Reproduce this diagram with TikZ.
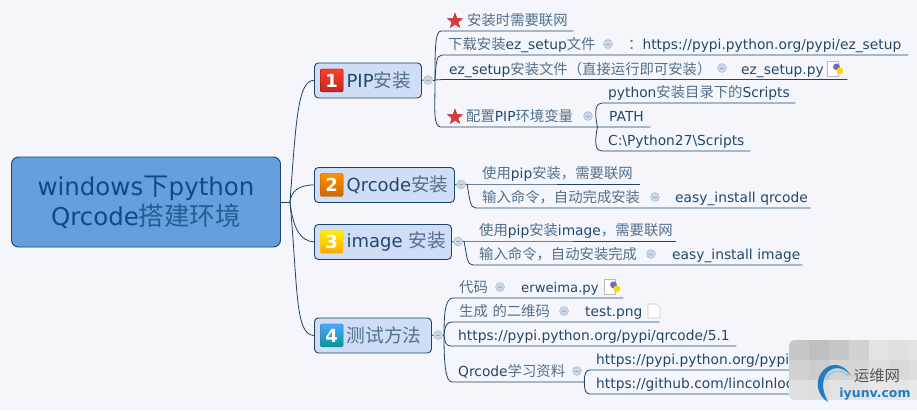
\documentclass[tikz,border=0pt]{standalone}
\usepackage{fontspec}
\setmainfont{DejaVu Sans}
\newfontfamily\cjk[Scale=1.04]{Noto Sans CJK SC}
\newcommand{\zh}[1]{{\cjk\color{.!78!white}#1}}
\usetikzlibrary{positioning}
\usetikzlibrary{shapes.geometric}
\definecolor{bgcol}{HTML}{F4F6FB}
\definecolor{linkcol}{HTML}{1C4468}
\definecolor{inkcol}{HTML}{23476B}
\definecolor{rootcol}{HTML}{659FDC}
\definecolor{roottxt}{HTML}{0F4A86}
\definecolor{branchcol}{HTML}{D0DDF7}
\definecolor{foldcol}{HTML}{CAD6EA}
\definecolor{starcol}{HTML}{DB3A3A}
\definecolor{wmblue}{HTML}{1F7DC4}
\tikzstyle{rootnode} = [draw=linkcol, fill=rootcol, rounded corners=7pt, line width=0.9pt, minimum width=269pt, minimum height=90pt, align=center, text=roottxt, font=\fontsize{24.5}{31}\selectfont]
\tikzstyle{branchnode} = [draw=linkcol, fill=branchcol, rounded corners=4pt, line width=0.9pt, minimum height=35pt, anchor=north west]
\tikzstyle{badge} = [draw, rounded corners=2pt, minimum size=23pt, inner sep=0pt, text=white, font=\fontsize{18}{18}\selectfont\bfseries]
\tikzstyle{title} = [inner sep=0pt, text=inkcol, font=\fontsize{18}{20}\selectfont]
\tikzstyle{leaf} = [anchor=south west, inner xsep=6pt, inner ysep=0pt, text depth=5.2pt, align=left, text=inkcol, font=\fontsize{13.8}{16}\selectfont]
\tikzstyle{fold} = [circle, draw=foldcol!85!black, fill=foldcol, inner sep=0pt, minimum size=9pt, path picture={\draw[white!55!inkcol, line width=0.6pt] ([xshift=2.2pt]path picture bounding box.west) -- ([xshift=-2.2pt]path picture bounding box.east);}]
\tikzstyle{redstar} = [star, star points=5, star point ratio=2.4, fill=starcol, draw=starcol!85!black, line width=0.4pt, inner sep=0pt, minimum size=16pt]
\tikzstyle{link} = [draw=linkcol, line width=0.8pt]
\tikzset{
  pyicon/.pic={
    \draw[gray!55, fill=white, line width=0.7pt] (-8,-7.5) rectangle (3,7.5);
    \fill[blue!35!gray!85] (1.5,-2.2) circle (3.4pt);
    \fill[yellow!75!orange] (4.8,1.8) circle (3.4pt);
  },
  docicon/.pic={
    \draw[gray!45, fill=white, line width=0.6pt] (-6,-7) -- (2.5,-7) -- (6,-3.5) -- (6,7) -- (-6,7) -- cycle;
  }
}

\begin{document}
\begin{tikzpicture}[x=1pt, y=-1pt]
  \useasboundingbox[fill=bgcol] (0,0) rectangle (917,410);

  % main topic and its four branches
  \node[rootnode] (root) at (146,202) {\raisebox{-1.5pt}{windows{\cjk 下}python}\\\raisebox{-0.8pt}{Qrcode{\cjk\color{.!90!white}搭建环境}}};
  \coordinate (hub) at (290,202);
  \node[branchnode, minimum width=107pt] (pip) at (314,62.5) {};
  \node[branchnode, minimum width=140pt] (qr) at (314,167) {};
  \node[branchnode, minimum width=137pt] (img) at (314,224) {};
  \node[branchnode, minimum width=117pt] (test) at (314,317.5) {};

  \node[badge, draw=red!55!black, top color=red!75!orange!85, bottom color=red!70!black!85, right=6pt of pip.west] (n1) {1};
  \node[badge, draw=orange!70!black, top color=orange!85!yellow, bottom color=orange!80!black, right=6pt of qr.west] (n2) {2};
  \node[badge, draw=yellow!70!orange, top color=yellow!90!orange, bottom color=orange!70!yellow, right=6pt of img.west] (n3) {3};
  \node[badge, draw=cyan!50!black, top color=cyan!50!blue!70, bottom color=cyan!60!black, right=6pt of test.west] (n4) {4};
  \node[title, right=3pt of n1] (pip_t) {PIP\zh{安装}};
  \node[title, right=3pt of n2] (qr_t) {Qrcode\zh{安装}};
  \node[title, right=3pt of n3] (img_t) {image\ \zh{安装}};
  \node[title, right=3pt of n4] (test_t) {\zh{测试方法}};

  \draw[link] (root.east) -- (hub);
  \draw[link] (hub) .. controls (296,120) and (298,80) .. (pip.west);
  \draw[link] (hub) .. controls (291,192) and (298,185) .. (qr.west);
  \draw[link] (hub) .. controls (293,228) and (300,241) .. (img.west);
  \draw[link] (hub) .. controls (298,290) and (295,335) .. (test.west);

  % PIP
  \node[fold] (f1) at (428,80) {};
  \coordinate (fork1) at (435,80);
  \node[redstar] (s1) at (455,21) {};
  \node[leaf, text width=120pt] (a1) at (441,31) {\hspace*{20pt}\zh{安装时需要联网}};
  \node[leaf, text width=146pt] (a2) at (442,55) {\zh{下载安装}ez\_setup\zh{文件}};
  \node[leaf, text width=296pt] (a2b) at (600,55) {\hspace*{22pt}\zh{：}https://pypi.python.org/pypi/ez\_setup};
  \node[fold] (f2) at (608,44) {};
  \node[leaf, text width=280pt] (a3) at (443,79.5) {ez\_setup\zh{安装文件（直接运行即可安装）}};
  \node[leaf, text width=100pt] (a3b) at (735,79.5) {ez\_setup.py};
  \node[fold] (f3) at (722,68) {};
  \pic at (835,69) {pyicon};
  \node[redstar] (s2) at (455,117) {};
  \node[leaf, text width=144pt] (a4) at (441,127) {\hspace*{19pt}\zh{配置}PIP\zh{环境变量}};
  \node[fold] (f4) at (588,116) {};
  \node[leaf, text width=181pt] (b1) at (602,103) {python\zh{安装目录下的}Scripts};
  \node[leaf, text width=35pt] (b2) at (603,127) {PATH};
  \node[leaf, text width=136pt] (b3) at (602,151) {C:\textbackslash Python27\textbackslash Scripts};

  \draw[link] (pip.east) -- (f1.west);
  \draw[link] (f1.east) -- (fork1);
  \draw[link] (fork1) .. controls (435,50) and (435,31) .. (a1.south west) -- (a1.south east);
  \draw[link] (fork1) .. controls (436,65) and (436,55) .. (a2.south west) -- (a2.south east) -- (a2b.south east);
  \draw[link] (fork1) -- (a3.south west) -- (a3.south east) -- (a3b.south east);
  \draw[link] (fork1) .. controls (435,110) and (433,127) .. (a4.south west) -- (a4.south east) -- (b2.south west) -- (b2.south east);
  \draw[link] (a4.south east) .. controls (594,110) and (596,103) .. (b1.south west) -- (b1.south east);
  \draw[link] (a4.south east) .. controls (594,145) and (596,151) .. (b3.south west) -- (b3.south east);

  % Qrcode
  \node[fold] (f5) at (461,184.5) {};
  \coordinate (fork2) at (467,184);
  \node[leaf, text width=152pt] (c1) at (476,184) {\zh{使用}pip\zh{安装，需要联网}};
  \node[leaf, text width=173pt] (c2) at (476,208) {\zh{输入命令，自动完成安装}};
  \node[leaf, text width=137pt] (c2b) at (661,208) {\hspace*{8pt}\mbox{easy\_install qrcode}};
  \node[fold] (f6) at (655,197) {};

  \draw[link] (qr.east) -- (f5.west);
  \draw[link] (f5.east) -- (fork2);
  \draw[link] (fork2) -- (c1.south west) -- (c1.south east);
  \draw[link] (fork2) .. controls (470,200) and (470,208) .. (c2.south west) -- (c2.south east) -- (c2b.south east);

  % image
  \node[fold] (f7) at (458,241.5) {};
  \coordinate (fork3) at (464,241);
  \node[leaf, text width=191pt] (d1) at (473,241) {\zh{使用}pip\zh{安装}image\zh{，需要联网}};
  \node[leaf, text width=175pt] (d2) at (473,265) {\zh{输入命令，自动安装完成}};
  \node[leaf, text width=130pt] (d2b) at (660,265) {\hspace*{6pt}\mbox{easy\_install image}};
  \node[fold] (f8) at (651,254) {};

  \draw[link] (img.east) -- (f7.west);
  \draw[link] (f7.east) -- (fork3);
  \draw[link] (fork3) -- (d1.south west) -- (d1.south east);
  \draw[link] (fork3) .. controls (467,257) and (467,265) .. (d2.south west) -- (d2.south east) -- (d2b.south east);

  % test
  \node[fold] (f9) at (438,335) {};
  \coordinate (fork4) at (444,335);
  \node[leaf, text width=50pt] (e1) at (453,298) {\zh{代码}};
  \node[leaf, text width=96pt] (e1b) at (515,298) {\fontsize{13.2}{16}\selectfont erweima.py};
  \node[fold] (f10) at (500,287) {};
  \pic at (612,287) {pyicon};
  \node[leaf, text width=114pt] (e2) at (453,322) {\zh{生成 的二维码}};
  \node[leaf, text width=68pt] (e2b) at (579,322) {test.png};
  \node[fold] (f11) at (564,311) {};
  \pic at (654,311) {docicon};
  \node[leaf, text width=272pt] (e3) at (452,346) {https://pypi.python.org/pypi/qrcode/5.1};
  \node[leaf, text width=120pt] (e4) at (452,382) {Qrcode\zh{学习资料}};
  \node[fold] (f12) at (577,371) {};
  \node[leaf, text width=198pt] (g1) at (590,370) {https://pypi.python.org/pypi};
  \node[leaf, text width=198pt] (g2) at (590,394) {https://github.com/lincolnloc};

  \draw[link] (test.east) -- (f9.west);
  \draw[link] (f9.east) -- (fork4);
  \draw[link] (fork4) .. controls (444,315) and (445,298) .. (e1.south west) -- (e1.south east) -- (e1b.south east);
  \draw[link] (fork4) .. controls (445,328) and (445,322) .. (e2.south west) -- (e2.south east) -- (e2b.south east);
  \draw[link] (fork4) .. controls (445,342) and (445,346) .. (e3.south west) -- (e3.south east);
  \draw[link] (fork4) .. controls (444,360) and (445,382) .. (e4.south west) -- (e4.south east);
  \draw[link] (e4.south east) .. controls (584,374) and (586,370) .. (g1.south west) -- (g1.south east);
  \draw[link] (e4.south east) .. controls (584,390) and (586,394) .. (g2.south west) -- (g2.south east);

  % watermark
  \begin{scope}
    \clip[rounded corners=6pt] (789,340) rectangle (930,400);
    \foreach \x/\a/\b/\c in {789/198/208/225, 809/192/205/222, 829/200/212/226, 849/208/214/228, 869/226/222/232, 889/224/218/230, 909/226/222/232} {
      \fill[black!\the\numexpr(255-\a)*100/255\relax] (\x,340) rectangle +(20.5,20.5);
      \fill[black!\the\numexpr(255-\b)*100/255\relax] (\x,360) rectangle +(20.5,20.5);
      \fill[black!\the\numexpr(255-\c)*100/255\relax] (\x,380) rectangle +(20.5,20);
    }
  \end{scope}
  \fill[wmblue] (851,376) .. controls (843,361) and (826,361) .. (819,377) .. controls (815,388) and (821,398) .. (828,402) .. controls (824,394) and (821,386) .. (825,376) .. controls (830,366) and (843,365) .. cycle;
  \draw[white!40!cyan, line width=1pt] (848,376) .. controls (842,369) and (832,369) .. (827,378);
  \node[inner sep=0pt, text=black!85, font=\fontsize{14.8}{18}\selectfont] (wm_a) at (877,376) {\zh{运维网}};
  \node[inner sep=0pt, text=wmblue, font=\fontsize{12.5}{14}\selectfont\bfseries] (wm_b) at (875,394) {iyunv.com};
\end{tikzpicture}
\end{document}
